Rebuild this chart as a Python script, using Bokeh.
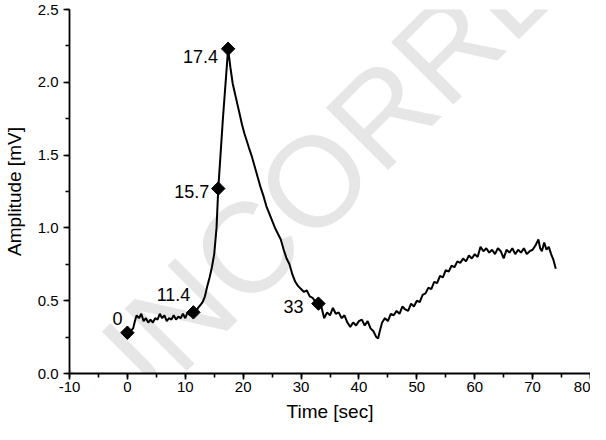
import math
from bokeh.plotting import figure
from bokeh.models import (Range1d, SingleIntervalTicker, PrintfTickFormatter,
                          Label, ColumnDataSource)
from bokeh.core.properties import value
from bokeh.embed import file_html
from bokeh.resources import INLINE

# ---- data ----
time_s = [0, 0.5, 1.0, 1.3, 1.6, 2.0, 2.4, 2.8, 3.2, 3.6, 4.0, 4.4, 4.8, 5.2, 5.6,
          6.0, 6.4, 6.8, 7.2, 7.6, 8.0, 8.4, 8.8, 9.2, 9.6, 10.0, 10.4, 10.8, 11.1,
          11.4, 11.8, 12.2, 12.6, 13.0, 13.4, 13.8, 14.2, 14.6, 15.0, 15.4, 15.7,
          16.5, 17.4, 17.8, 18.2, 18.6, 19.0, 19.4, 19.8, 20.2, 20.6, 21.0, 21.5,
          22.0, 22.5, 23.0, 23.5, 24.0, 24.5, 25.0, 25.5, 26.0, 26.5, 27.0, 27.5,
          28.0, 28.5, 29.0, 29.5, 30.0, 30.5, 31.0, 31.5, 32.0, 32.5, 33.0, 33.5,
          34.0, 34.5, 35.0, 35.5, 36.0, 36.5, 37.0, 37.5, 38.0, 38.5, 39.0, 39.5,
          40.0, 40.5, 41.0, 41.5, 42.0, 42.5, 43.0, 43.3, 43.6, 44.0, 44.5, 45.0,
          45.5, 46.0, 46.5, 47.0, 47.5, 48.0, 48.5, 49.0, 49.5, 50.0, 50.5, 51.0,
          51.5, 52.0, 52.5, 53.0, 53.5, 54.0, 54.5, 55.0, 55.5, 56.0, 56.5, 57.0,
          57.5, 58.0, 58.5, 59.0, 59.5, 60.0, 60.5, 61.0, 61.5, 62.0, 62.5, 63.0,
          63.5, 64.0, 64.5, 65.0, 65.5, 66.0, 66.5, 67.0, 67.5, 68.0, 68.5, 69.0,
          69.5, 70.0, 70.5, 71.0, 71.3, 71.6, 72.0, 72.4, 72.8, 73.2, 73.6, 74.0]

amplitude_mv = [0.28, 0.29, 0.31, 0.36, 0.40, 0.38, 0.41, 0.36, 0.38, 0.35, 0.37, 0.35,
                0.38, 0.37, 0.41, 0.38, 0.40, 0.36, 0.38, 0.37, 0.40, 0.37, 0.39, 0.38,
                0.41, 0.38, 0.42, 0.40, 0.43, 0.42, 0.41, 0.45, 0.47, 0.49, 0.53, 0.60,
                0.66, 0.73, 0.82, 1.00, 1.27, 1.75, 2.23, 2.10, 1.99, 1.92, 1.85, 1.78,
                1.71, 1.65, 1.60, 1.55, 1.49, 1.42, 1.35, 1.28, 1.22, 1.15, 1.10, 1.05,
                1.00, 0.96, 0.92, 0.85, 0.79, 0.75, 0.68, 0.63, 0.60, 0.58, 0.56, 0.57,
                0.53, 0.52, 0.49, 0.48, 0.46, 0.38, 0.42, 0.40, 0.45, 0.41, 0.42, 0.38,
                0.40, 0.35, 0.32, 0.35, 0.33, 0.36, 0.37, 0.33, 0.36, 0.31, 0.29, 0.25,
                0.24, 0.29, 0.35, 0.38, 0.36, 0.41, 0.40, 0.43, 0.41, 0.46, 0.44, 0.43,
                0.48, 0.46, 0.50, 0.49, 0.54, 0.55, 0.59, 0.58, 0.63, 0.62, 0.67, 0.66,
                0.71, 0.70, 0.74, 0.73, 0.77, 0.76, 0.79, 0.77, 0.81, 0.79, 0.82, 0.80,
                0.87, 0.84, 0.86, 0.83, 0.85, 0.82, 0.86, 0.84, 0.79, 0.85, 0.83, 0.86,
                0.82, 0.85, 0.83, 0.86, 0.82, 0.84, 0.85, 0.88, 0.92, 0.86, 0.84, 0.90,
                0.85, 0.87, 0.82, 0.78, 0.72]

marker_time = [0, 11.4, 15.7, 17.4, 33]
marker_amp = [0.28, 0.42, 1.27, 2.23, 0.48]
marker_text = ["0", "11.4", "15.7", "17.4", "33"]

x_ticks_interval = 10
y_ticks_interval = 0.5

FONT = "Liberation Sans"

p = figure(width=590, height=424, output_backend="svg", toolbar_location=None,
           x_range=Range1d(-10, 80), y_range=Range1d(0, 2.5),
           min_border_left=65, min_border_right=0, min_border_top=9,
           min_border_bottom=50)
p.outline_line_color = None
p.xgrid.visible = False
p.ygrid.visible = False
p.background_fill_color = "white"
p.border_fill_color = "white"

# watermark
wm = Label(x=53.1, y=2.15, text="UNCORRECTED", angle=math.pi / 4, angle_units="rad",
           text_align="center", text_baseline="middle", text_font_size="128px",
           text_font=FONT, text_color="#e6e6e6", level="annotation")
p.add_layout(wm)

ln = p.line(time_s, amplitude_mv, line_color="black", line_width=2)
ln.level = "overlay"

sc = p.scatter(marker_time, marker_amp, marker="square", angle=math.pi / 4, size=9.5,
               fill_color="black", line_color="black")
sc.level = "overlay"

lab_src = ColumnDataSource(dict(x=marker_time, y=marker_amp, t=marker_text,
                                xo=[-5, -3, -9, -10, -15],
                                yo=[-14, -18, 3, 8, 3]))
tx = p.text(x="x", y="y", text="t", source=lab_src, x_offset="xo", y_offset="yo",
            text_align="right", text_baseline="middle", text_font=value(FONT),
            text_font_size="18px", text_color="black")
tx.level = "overlay"

for ax in (p.xaxis[0], p.yaxis[0]):
    ax.level = "overlay"
    ax.axis_line_width = 1.8
    ax.axis_line_color = "black"
    ax.major_tick_line_width = 1.6
    ax.minor_tick_line_width = 1.6
    ax.major_tick_out = 6
    ax.major_tick_in = 0
    ax.minor_tick_out = 4
    ax.minor_tick_in = 0
    ax.major_label_text_font = FONT
    ax.major_label_text_font_size = "15px"
    ax.major_label_text_color = "black"
    ax.axis_label_text_font = FONT
    ax.axis_label_text_font_size = "19px"
    ax.axis_label_text_font_style = "normal"
    ax.axis_label_text_color = "black"

p.xaxis.ticker = SingleIntervalTicker(interval=x_ticks_interval, num_minor_ticks=2)
p.yaxis.ticker = SingleIntervalTicker(interval=y_ticks_interval, num_minor_ticks=2)
p.xaxis.formatter = PrintfTickFormatter(format="%d")
p.yaxis.formatter = PrintfTickFormatter(format="%.1f")
p.xaxis.axis_label = "Time [sec]"
p.yaxis.axis_label = "Amplitude [mV]"
p.xaxis.major_label_standoff = 2
p.xaxis.axis_label_standoff = 6
p.yaxis.major_label_standoff = 5
p.yaxis.axis_label_standoff = 10

open("out.html", "w").write(file_html(p, INLINE))
